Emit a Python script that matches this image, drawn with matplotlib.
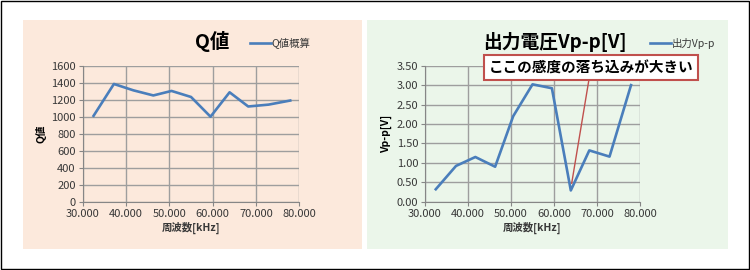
import matplotlib
matplotlib.use("Agg")
import matplotlib.pyplot as plt
from matplotlib.patches import Rectangle

plt.rcParams['font.family'] = ['Noto Sans CJK JP', 'DejaVu Sans']

# 周波数 [kHz]
freq = [32.5, 37.2, 41.7, 46.3, 50.5, 55.0, 59.5, 63.9, 68.2, 72.9, 77.9]
# Q値概算
q_val = [1010, 1385, 1310, 1250, 1303, 1232, 1000, 1287, 1120, 1142, 1190]
# 出力Vp-p
vpp = [0.32, 0.92, 1.15, 0.90, 2.20, 3.02, 2.92, 0.29, 1.32, 1.16, 3.00]

blue = '#4a7ebb'
grid_c = '#9e9e9e'
txt_c = '#383838'

fig = plt.figure(figsize=(7.5, 2.7), dpi=100)
fig.patch.set_facecolor('white')

# background panels + outer border (behind the axes)
fig.patches.append(Rectangle((0.0302, 0.078), 0.4524, 0.848, transform=fig.transFigure,
                             facecolor='#fce9dc', edgecolor='none', zorder=-2))
fig.patches.append(Rectangle((0.4893, 0.078), 0.481, 0.848, transform=fig.transFigure,
                             facecolor='#ebf6ea', edgecolor='none', zorder=-2))
fig.patches.append(Rectangle((0.001, 0.002), 0.997, 0.995, transform=fig.transFigure,
                             facecolor='none', edgecolor='black', lw=1, zorder=-2))


def style(ax):
    ax.set_facecolor('none')
    for s in ['top', 'right']:
        ax.spines[s].set_visible(False)
    for s in ['left', 'bottom']:
        ax.spines[s].set_color('#868686')
    ax.grid(True, color=grid_c, lw=1)
    ax.set_axisbelow(True)
    ax.tick_params(colors='#868686', labelcolor=txt_c, labelsize=8, length=3, pad=2)
    ax.set_xlim(30, 80)
    ax.set_xticks([30, 40, 50, 60, 70, 80])
    ax.set_xticklabels(['%.3f' % v for v in [30, 40, 50, 60, 70, 80]])
    ax.set_xlabel('周波数[kHz]', fontsize=7.5, fontweight='bold', color=txt_c, labelpad=2)


# left: Q値
ax1 = fig.add_axes([0.1103, 0.253, 0.2888, 0.5037])
style(ax1)
ax1.plot(freq, q_val, color=blue, lw=1.9, label='Q値概算')
ax1.set_ylim(0, 1600)
ax1.set_yticks(range(0, 1601, 200))
ax1.set_ylabel('Q値', fontsize=7.5, fontweight='bold', color='black', labelpad=3)
fig.text(0.2823, 0.845, 'Q値', fontsize=14, fontweight='bold', ha='center', va='center')
ax1.legend(loc='center left', bbox_to_anchor=(0.333, 0.84), bbox_transform=fig.transFigure,
           frameon=False, fontsize=7.5, handlelength=2.0, handletextpad=0.1,
           borderpad=0, borderaxespad=0, labelcolor=txt_c)

# right: 出力電圧
ax2 = fig.add_axes([0.5667, 0.253, 0.2867, 0.5037])
style(ax2)
ax2.plot(freq, vpp, color=blue, lw=1.9, label='出力Vp-p')
ax2.set_ylim(0, 3.5)
ax2.set_yticks([i * 0.5 for i in range(8)])
ax2.set_yticklabels(['%.2f' % (i * 0.5) for i in range(8)])
ax2.set_ylabel('Vp-p[V]', fontsize=7.5, fontweight='bold', color='black', labelpad=3)
fig.text(0.74, 0.845, '出力電圧Vp-p[V]', fontsize=13.5, fontweight='bold', ha='center', va='center')
ax2.legend(loc='center left', bbox_to_anchor=(0.867, 0.84), bbox_transform=fig.transFigure,
           frameon=False, fontsize=7.5, handlelength=2.0, handletextpad=0.1,
           borderpad=0, borderaxespad=0, labelcolor=txt_c)

ax2.annotate('ここの感度の落ち込みが大きい', xy=(64.1, 0.47),
             xytext=(0.788, 0.751), textcoords='figure fraction',
             ha='center', va='center', fontsize=10.5, fontweight='bold',
             bbox=dict(boxstyle='square,pad=0.3', fc='white', ec='#c0504d', lw=1.5),
             arrowprops=dict(arrowstyle='-', color='#c0504d', lw=1.0, shrinkA=0, shrinkB=0),
             zorder=5)

fig.savefig('out.png', dpi=100)
